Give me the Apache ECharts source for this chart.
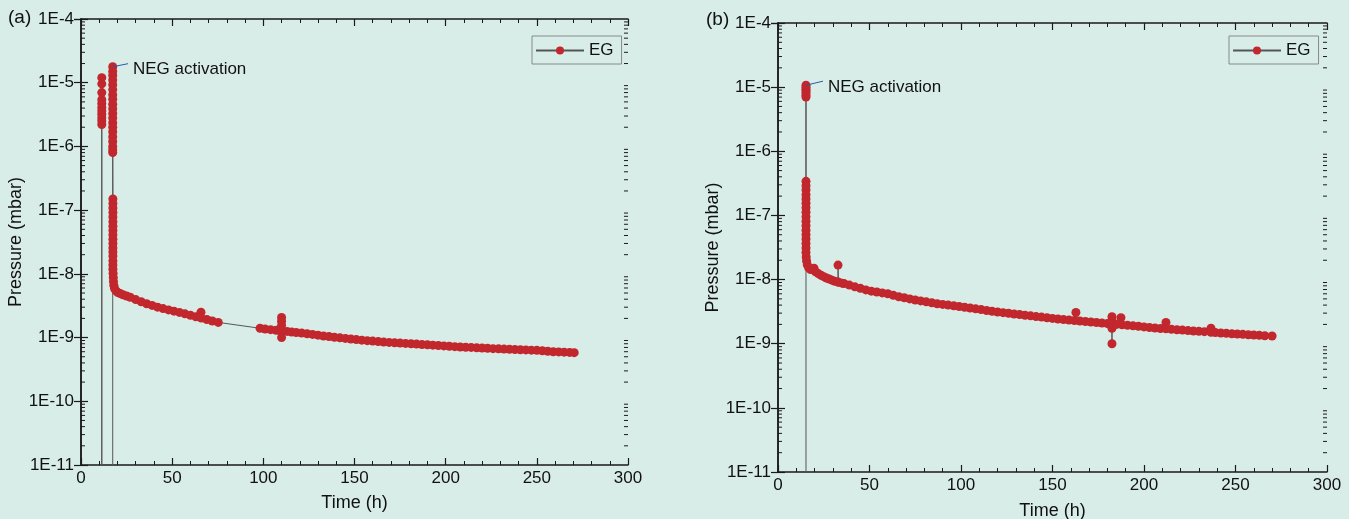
<!DOCTYPE html>
<html>
<head>
<meta charset="utf-8">
<script src="https://cdn.jsdelivr.net/npm/echarts@6/dist/echarts.min.js"></script>
<style>
  html, body { margin: 0; padding: 0; background: #d9ede8; }
  #chart { width: 1349px; height: 519px; }
</style>
</head>
<body>
<div id="chart"></div>
<script>
// panel (a) - EG pressure vs time
var timeA = [
  11.4, 11.4, 11.4, 11.4, 11.4, 11.4, 11.4, 11.4, 11.4, 11.4, 11.4, 11.4, 11.4,
  17.4, 17.4, 17.4, 17.4, 17.4, 17.4, 17.4, 17.4, 17.4, 17.4, 17.4, 17.4, 17.4, 17.4, 17.4, 17.4, 17.4, 17.4, 17.4, 17.4, 17.4,
  17.5, 17.5, 17.5, 17.5, 17.5, 17.5, 17.5, 17.5, 17.5, 17.5, 17.5, 17.5, 17.5, 17.5, 17.5, 17.5, 17.5, 17.6, 17.7, 17.8, 18.0, 18.4, 19.2, 20.2,
  21.5, 23, 25, 27, 30, 33, 36, 39, 42, 45, 48, 51, 54, 57, 60, 63, 65.8, 66, 69, 72, 75.3,
  98.2, 101, 104, 107, 110, 110, 110, 110, 110, 110, 113, 115.5, 118, 121, 124, 127, 130, 133, 136, 139,
  142, 145, 148, 151, 154, 157, 160, 163, 166, 169, 172, 175, 178, 181, 184, 187, 190, 193, 196, 199,
  202, 205, 208, 211, 214, 217, 220, 223, 226, 229, 232, 235, 238, 241, 244, 247, 250, 253, 256, 259,
  262, 265, 268, 270.5
];
var pressureA = [
  1e-12, 2.2e-6, 2.5e-6, 2.8e-6, 3.2e-6, 3.6e-6, 4.1e-6, 4.7e-6, 5.4e-6, 7.0e-6, 9.6e-6, 1.2e-5, 1e-12,
  1e-12, 1.78e-5, 1.5e-5, 1.3e-5, 1.1e-5, 9.3e-6, 7.8e-6, 6.5e-6, 5.5e-6, 4.6e-6, 3.9e-6, 3.3e-6, 2.8e-6, 2.35e-6, 2.0e-6, 1.7e-6, 1.42e-6, 1.2e-6, 1.0e-6, 8.8e-7, 8.0e-7,
  1.5e-7, 1.27e-7, 1.08e-7, 9.2e-8, 7.8e-8, 6.6e-8, 5.6e-8, 4.8e-8, 4.1e-8, 3.5e-8, 3.0e-8, 2.55e-8, 2.2e-8, 1.9e-8, 1.6e-8, 1.38e-8, 1.18e-8, 1.02e-8, 8.8e-9, 7.6e-9, 6.6e-9, 5.9e-9, 5.4e-9, 5.1e-9,
  4.9e-9, 4.7e-9, 4.5e-9, 4.3e-9, 3.95e-9, 3.65e-9, 3.4e-9, 3.2e-9, 3.0e-9, 2.85e-9, 2.72e-9, 2.6e-9, 2.48e-9, 2.36e-9, 2.24e-9, 2.12e-9, 2.5e-9, 2.02e-9, 1.92e-9, 1.82e-9, 1.73e-9,
  1.4e-9, 1.36e-9, 1.33e-9, 1.3e-9, 2.07e-9, 1.8e-9, 1.55e-9, 1.2e-9, 1.0e-9, 1.27e-9, 1.25e-9, 1.22e-9, 1.2e-9, 1.18e-9, 1.15e-9, 1.12e-9, 1.09e-9, 1.06e-9, 1.04e-9, 1.01e-9,
  9.9e-10, 9.7e-10, 9.5e-10, 9.3e-10, 9.1e-10, 8.95e-10, 8.8e-10, 8.65e-10, 8.5e-10, 8.4e-10, 8.3e-10, 8.2e-10, 8.1e-10, 8.0e-10, 7.9e-10, 7.8e-10, 7.7e-10, 7.6e-10, 7.5e-10, 7.4e-10,
  7.3e-10, 7.2e-10, 7.1e-10, 7.05e-10, 7.0e-10, 6.9e-10, 6.85e-10, 6.8e-10, 6.7e-10, 6.65e-10, 6.6e-10, 6.55e-10, 6.5e-10, 6.45e-10, 6.4e-10, 6.35e-10, 6.3e-10, 6.2e-10, 6.1e-10, 6.0e-10,
  5.95e-10, 5.9e-10, 5.85e-10, 5.8e-10
];

// panel (b) - EG pressure vs time
var timeB = [
  15.3, 15.3, 15.3, 15.3, 15.3, 15.3, 15.3, 15.3,
  15.3, 15.3, 15.3, 15.3, 15.3, 15.3, 15.3, 15.3, 15.3, 15.3, 15.3, 15.3, 15.3, 15.3, 15.3, 15.3, 15.3, 15.4, 15.6, 16.0, 16.8, 17.8, 19.7, 20.5,
  22, 23.5, 25, 26.5, 28, 29.5, 31, 32.8, 32.8, 33, 35,
  36, 39, 42, 45, 48, 51, 54, 57, 60, 63, 66, 69, 72, 75, 78, 81, 84, 87, 90, 93, 96, 99,
  102, 105, 108, 111, 114, 117, 120, 123, 126, 129, 132, 135, 138, 141, 144, 147, 150, 153, 156, 159,
  162, 162.8, 165, 168, 171, 174, 177, 180, 182.5, 182.5, 182.5, 182.5, 182.5, 185, 187.4, 188, 191, 194, 197, 200,
  203, 206, 209, 212, 212, 215, 218, 221, 224, 227, 230, 233, 236.6, 236.6, 239, 242, 245, 248, 251, 254,
  257, 260, 263, 266, 270
];
var pressureB = [
  1e-12, 7.0e-6, 7.5e-6, 8.1e-6, 8.7e-6, 9.3e-6, 1.0e-5, 1.07e-5,
  3.4e-7, 2.9e-7, 2.5e-7, 2.1e-7, 1.8e-7, 1.55e-7, 1.32e-7, 1.12e-7, 9.5e-8, 8.1e-8, 6.9e-8, 5.9e-8, 5.0e-8, 4.3e-8, 3.65e-8, 3.1e-8, 2.65e-8, 2.25e-8, 1.95e-8, 1.7e-8, 1.52e-8, 1.43e-8, 1.5e-8, 1.32e-8,
  1.24e-8, 1.17e-8, 1.11e-8, 1.06e-8, 1.02e-8, 9.8e-9, 9.4e-9, 9.2e-9, 1.68e-8, 9.1e-9, 8.8e-9,
  8.7e-9, 8.2e-9, 7.7e-9, 7.3e-9, 6.9e-9, 6.6e-9, 6.4e-9, 6.2e-9, 6.0e-9, 5.7e-9, 5.4e-9, 5.2e-9, 5.0e-9, 4.8e-9, 4.65e-9, 4.5e-9, 4.35e-9, 4.2e-9, 4.1e-9, 4.0e-9, 3.9e-9, 3.8e-9,
  3.7e-9, 3.6e-9, 3.5e-9, 3.4e-9, 3.3e-9, 3.2e-9, 3.12e-9, 3.05e-9, 2.98e-9, 2.9e-9, 2.85e-9, 2.78e-9, 2.72e-9, 2.65e-9, 2.6e-9, 2.54e-9, 2.48e-9, 2.43e-9, 2.38e-9, 2.34e-9,
  2.3e-9, 3.08e-9, 2.26e-9, 2.22e-9, 2.18e-9, 2.14e-9, 2.1e-9, 2.06e-9, 2.63e-9, 2.3e-9, 1.74e-9, 1.0e-9, 2.02e-9, 2.0e-9, 2.54e-9, 1.97e-9, 1.94e-9, 1.9e-9, 1.87e-9, 1.83e-9,
  1.79e-9, 1.76e-9, 1.73e-9, 2.15e-9, 1.71e-9, 1.68e-9, 1.65e-9, 1.63e-9, 1.6e-9, 1.58e-9, 1.56e-9, 1.54e-9, 1.74e-9, 1.51e-9, 1.49e-9, 1.47e-9, 1.45e-9, 1.43e-9, 1.42e-9, 1.4e-9,
  1.38e-9, 1.37e-9, 1.35e-9, 1.33e-9, 1.32e-9
];

// NEG activation annotation (data coords: from point, to text)
var negA = [[17.4, 1.78e-5], [25.8, 1.99e-5]];
var negB = [[15.3, 1.07e-5], [24.6, 1.24e-5]];

var timeTicks = [0, 300, 50];          // min, max, step
var pressureRange = [1e-11, 1e-4];
var minorFactors = [2, 3, 4, 5, 6, 7, 8, 9];
var decades = [1e-11, 1e-10, 1e-9, 1e-8, 1e-7, 1e-6, 1e-5];

var FONT = 'Liberation Sans, Arial, sans-serif';
var RED = '#c1272d';
var AXIS = '#1a1a1a';

function pairs(xs, ys) {
  var out = [];
  for (var i = 0; i < xs.length; i++) out.push([xs[i], ys[i]]);
  return out;
}

// log minor ticks (2..9 of each decade) on both y edges
var minorTickData = [];
decades.forEach(function (d) {
  minorFactors.forEach(function (f) { minorTickData.push([0, d * f]); });
});

function minorTickItem(params, api) {
  var cs = params.coordSys;
  var y = api.coord([0, api.value(1)])[1];
  var st = { stroke: AXIS, lineWidth: 1 };
  return {
    type: 'group',
    children: [
      { type: 'line', shape: { x1: cs.x, y1: y, x2: cs.x + 4, y2: y }, style: st },
      { type: 'line', shape: { x1: cs.x + cs.width - 4, y1: y, x2: cs.x + cs.width, y2: y }, style: st }
    ]
  };
}

function xAx(grid, top, gap) {
  return {
    type: 'value', gridIndex: grid, position: top ? 'top' : 'bottom',
    min: timeTicks[0], max: timeTicks[1], interval: timeTicks[2],
    name: top ? '' : 'Time (h)', nameLocation: 'middle', nameGap: gap,
    nameTextStyle: { fontFamily: FONT, fontSize: 18, color: '#111' },
    axisLine: { show: true, onZero: false, lineStyle: { color: AXIS, width: 1.5 } },
    axisTick: { show: true, inside: true, length: 7, lineStyle: { color: AXIS, width: 1.2 } },
    minorTick: { show: true, splitNumber: 5, length: 4, lineStyle: { color: AXIS, width: 1 } },
    axisLabel: { show: !top, fontFamily: FONT, fontSize: 17, color: '#111', margin: 5,
      showMinLabel: true, showMaxLabel: true },
    splitLine: { show: false }
  };
}

function yAx(grid, right, gap) {
  return {
    type: 'log', logBase: 10, gridIndex: grid, position: right ? 'right' : 'left',
    min: pressureRange[0], max: pressureRange[1], interval: 1, splitNumber: 7,
    name: right ? '' : 'Pressure (mbar)', nameLocation: 'middle', nameGap: gap,
    nameTextStyle: { fontFamily: FONT, fontSize: 18, color: '#111' },
    axisLine: { show: true, lineStyle: { color: AXIS, width: 1.5 } },
    axisTick: { show: true, inside: true, length: 7, lineStyle: { color: AXIS, width: 1.2 } },
    axisLabel: { show: !right, fontFamily: FONT, fontSize: 17, color: '#111', margin: 7,
      showMinLabel: true, showMaxLabel: true,
      formatter: function (v) { return '1E' + Math.round(Math.log10(v)); } },
    splitLine: { show: false }
  };
}

function egSeries(grid, data, neg) {
  return {
    name: 'EG', type: 'line', xAxisIndex: grid * 2, yAxisIndex: grid * 2,
    data: data, symbol: 'circle', symbolSize: 9, showSymbol: true, showAllSymbol: true,
    clip: true, silent: true,
    itemStyle: { color: RED },
    lineStyle: { color: '#555', width: 1 },
    emphasis: { disabled: true },
    markLine: {
      silent: true, symbol: 'none', animation: false,
      lineStyle: { color: '#2a5aa8', width: 1, type: 'solid' },
      label: { show: true, position: 'end', formatter: 'NEG activation', distance: 5,
        offset: [0, 7], fontFamily: FONT, fontSize: 17, color: '#111' },
      data: [[{ coord: neg[0] }, { coord: neg[1] }]]
    }
  };
}

function tickSeries(grid) {
  return {
    type: 'custom', xAxisIndex: grid * 2, yAxisIndex: grid * 2,
    data: minorTickData, renderItem: minorTickItem, silent: true, z: 5
  };
}

function legend(left) {
  return {
    data: ['EG'], left: left, top: 36, orient: 'vertical',
    itemWidth: 48, itemHeight: 10, itemGap: 0,
    padding: [6, 8, 5, 3], borderColor: '#888', borderWidth: 1,
    textStyle: { fontFamily: FONT, fontSize: 17, color: '#111' },
    selectedMode: false
  };
}

var chart = echarts.init(document.getElementById('chart'), null, { renderer: 'canvas' });
chart.setOption({
  backgroundColor: '#d9ede8',
  animation: false,
  textStyle: { fontFamily: FONT },
  legend: [legend(532), legend(1229)],
  grid: [
    { left: 81, top: 19, width: 547, height: 446, outerBoundsMode: 'none' },
    { left: 778, top: 23, width: 549, height: 449, outerBoundsMode: 'none' }
  ],
  xAxis: [xAx(0, false, 29), xAx(0, true, 0), xAx(1, false, 30), xAx(1, true, 0)],
  yAxis: [yAx(0, false, 50), yAx(0, true, 0), yAx(1, false, 55), yAx(1, true, 0)],
  graphic: [
    { type: 'text', left: 8, top: 8, style: { text: '(a)', font: '19px ' + FONT, fill: '#111' } },
    { type: 'text', left: 706, top: 10, style: { text: '(b)', font: '19px ' + FONT, fill: '#111' } }
  ],
  series: [
    egSeries(0, pairs(timeA, pressureA), negA),
    egSeries(1, pairs(timeB, pressureB), negB),
    tickSeries(0),
    tickSeries(1)
  ]
});
</script>
</body>
</html>
